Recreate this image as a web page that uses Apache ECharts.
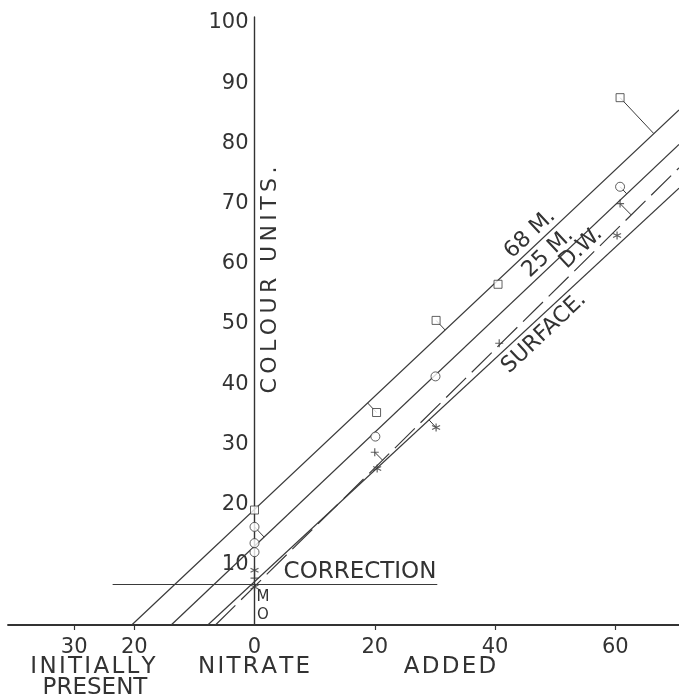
<!DOCTYPE html>
<html>
<head>
<meta charset="utf-8">
<script src="https://cdn.jsdelivr.net/npm/echarts@6/dist/echarts.min.js"></script>
<style>
  html, body { margin: 0; padding: 0; background: #fff; }
  #chart { width: 679px; height: 699px; }
</style>
</head>
<body>
<div id="chart"></div>
<script>
// tick labels
var xTicks = [-30, -20, 0, 20, 40, 60];
var xTickMarks = [-30, -20, 20, 40, 60];
var yTicks = [10, 20, 30, 40, 50, 60, 70, 80, 90, 100];

// readings (nitrate added, colour units)
var pts68 = [[0, 19.1], [20.3, 35.3], [30.2, 50.6], [40.5, 56.6], [60.8, 87.6]];
var pts25 = [[0, 16.3], [0, 13.6], [0, 12.1], [20.1, 31.3], [30.1, 41.3], [60.8, 72.8]];
var ptsDW = [[0, 7.8], [20, 28.7], [40.7, 46.8], [60.8, 70]];
var ptsSurf = [[0, 9.1], [0, 6.3], [20.4, 26], [30.2, 32.8], [60.3, 64.7]];

// fitted lines: y = slope * x + intercept
var lineNames = ['68 M.', '25 M.', 'D.W.', 'SURFACE.'];
var intercepts = [19.2, 13.1, 6.4, 7.2];
var slopes = [0.94, 0.945, 0.985, 0.926];

// correction level
var correctionY = 6.8;
var correctionX = [-23.6, 30.4];

var xMin = -41, xMax = 70.6;
var gridLeft = 8, chartW = 679;
var ink = '#3a3a3a';
var font = 'DejaVu Sans';

function spaced (s, ch) {
  return s.split('').join(ch)
}

function fitLine (i) {
  var x0 = -intercepts[i] / slopes[i]
  return [[x0, 0], [xMax, slopes[i] * xMax + intercepts[i]]]
}

// short strokes from a reading to its line (only the ones that stand off)
function leaders (pts, i) {
  var out = []
  var m = slopes[i], b = intercepts[i]
  pts.forEach(function (p) {
    var t = (p[1] - m * p[0] - b) / (1 + m * m)
    var dist = Math.abs(t) * Math.sqrt(1 + m * m)
    if (dist > 1.5) {
      out.push({ coords: [p, [p[0] + m * t, p[1] - t]] })
    }
  })
  return out
}

// the colour axis stands at x = 0, not at the grid's left edge
var yAxisShift = (0 - xMin) / (xMax - xMin) * (chartW - gridLeft);

var plusPath = 'path://M5,0L5,10M0,5L10,5';
var starPath = 'path://M5,0L5,10M0.7,2.5L9.3,7.5M0.7,7.5L9.3,2.5';

var chart = echarts.init(document.getElementById('chart'));

var series = [];
lineNames.forEach(function (name, i) {
  series.push({
    name: name,
    type: 'line',
    data: fitLine(i),
    showSymbol: false,
    silent: true,
    lineStyle: {
      color: ink,
      width: 1.2,
      type: i === 2 ? [28, 8] : 'solid'
    },
    z: 2
  })
});

series.push({
  type: 'lines',
  coordinateSystem: 'cartesian2d',
  data: [].concat(leaders(pts68, 0), leaders(pts25, 1), leaders(ptsDW, 2), leaders(ptsSurf, 3)),
  lineStyle: { color: ink, width: 1, opacity: 1 },
  z: 2
});

series.push({
  type: 'lines',
  coordinateSystem: 'cartesian2d',
  data: [{ coords: [[correctionX[0], correctionY], [correctionX[1], correctionY]] }],
  lineStyle: { color: ink, width: 1.2, opacity: 1 },
  z: 2
});

var markStyle = { color: '#fff', borderColor: ink, borderWidth: 1 };
series.push({ type: 'scatter', data: pts68, symbol: 'rect', symbolSize: 8, itemStyle: markStyle, z: 3 });
series.push({ type: 'scatter', data: pts25, symbol: 'circle', symbolSize: 9, itemStyle: markStyle, z: 3 });
series.push({ type: 'scatter', data: ptsDW, symbol: plusPath, symbolSize: 8, itemStyle: { color: 'none', borderColor: ink, borderWidth: 1.2 }, z: 3 });
series.push({ type: 'scatter', data: ptsSurf, symbol: starPath, symbolSize: 8, itemStyle: { color: 'none', borderColor: ink, borderWidth: 1.2 }, z: 3 });

var textStyleBase = { fill: '#333', fontFamily: font };
var lineAngle = Math.atan(0.94);

function label (text, x, y, size, rot) {
  return {
    type: 'text', x: x, y: y, rotation: rot || 0,
    style: Object.assign({ text: text, fontSize: size, align: 'center', verticalAlign: 'middle' }, textStyleBase)
  }
}

var option = {
  backgroundColor: '#fff',
  animation: false,
  grid: { left: gridLeft, right: 0, top: 17, bottom: 74, outerBoundsMode: 'none' },
  xAxis: {
    type: 'value',
    min: xMin,
    max: xMax,
    splitLine: { show: false },
    axisLine: { lineStyle: { color: '#333', width: 1.8 } },
    axisTick: { customValues: xTickMarks, length: 5, lineStyle: { color: '#333', width: 1.2 } },
    axisLabel: {
      customValues: xTicks,
      formatter: function (v) { return String(Math.abs(v)) },
      color: '#333',
      fontFamily: font,
      fontSize: 21,
      margin: 12
    }
  },
  yAxis: {
    type: 'value',
    min: 0,
    max: 101,
    position: 'left',
    offset: -yAxisShift,
    splitLine: { show: false },
    axisLine: { onZero: false, lineStyle: { color: '#333', width: 1.4 } },
    axisTick: { show: false },
    axisLabel: {
      customValues: yTicks,
      color: '#333',
      fontFamily: font,
      fontSize: 21,
      margin: 6
    }
  },
  graphic: [
    label(spaced('INITIALLY', '\u200a'), 93, 667, 23),
    label('PRESENT', 95, 688, 23),
    label(spaced('NITRATE', '\u200a'), 254, 667, 23),
    label(spaced('ADDED', '\u200a'), 450, 667, 23),
    label('CORRECTION', 360, 572, 23),
    label('M', 263, 597, 15),
    label('O', 263, 615, 15),
    label(spaced('COLOUR UNITS.', '\u2009'), 270, 280, 22, Math.PI / 2),
    label('68 M.', 530, 234, 22, lineAngle),
    label('25 M.', 548, 253, 22, lineAngle),
    label('D.W.', 581, 248, 22, lineAngle),
    label('SURFACE.', 544, 333, 22, lineAngle)
  ],
  series: series
};

chart.setOption(option);
</script>
</body>
</html>
